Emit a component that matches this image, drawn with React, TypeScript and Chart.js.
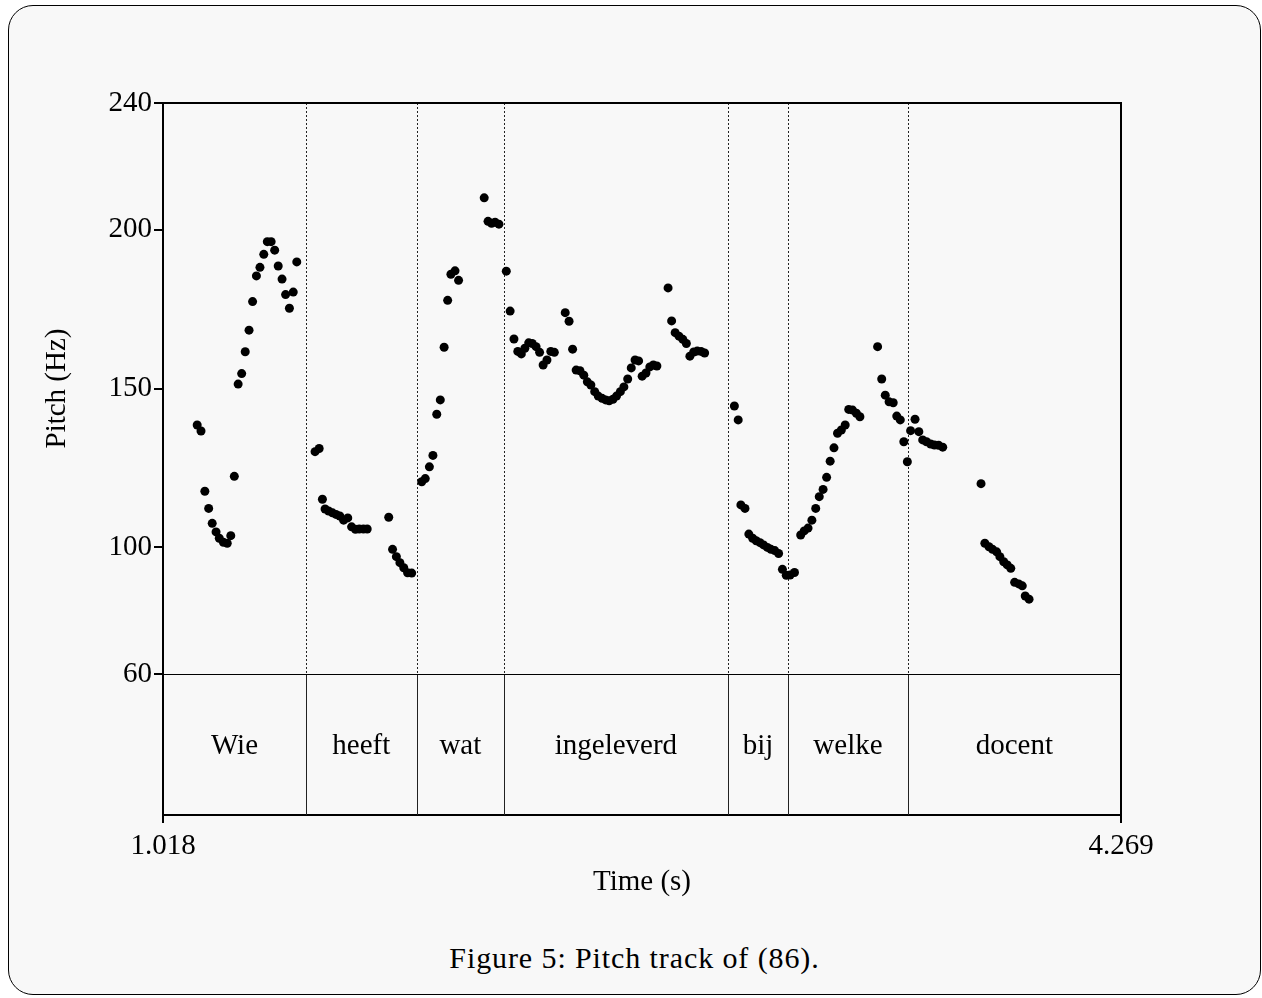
import React, { useEffect, useRef } from 'react';
import { Chart, registerables } from 'chart.js';

Chart.register(...registerables);

// ---- Tier (words) ----
const wordLabels = ['Wie', 'heeft', 'wat', 'ingeleverd', 'bij', 'welke', 'docent'];
const wordBounds = [1.018, 1.503, 1.879, 2.175, 2.935, 3.14, 3.545, 4.269];

// ---- Axis ticks ----
const xTickValues = [1.018, 4.269];
const yTickValues = [60, 100, 150, 200, 240];

// ---- Pitch track, per word ----
const wieTimes = [1.134, 1.147, 1.16, 1.173, 1.185, 1.198, 1.209, 1.223, 1.236, 1.248, 1.26, 1.273, 1.285, 1.297, 1.31, 1.322, 1.335, 1.347, 1.36, 1.372, 1.385, 1.397, 1.409, 1.422, 1.434, 1.447, 1.46, 1.472];
const wieHz = [138.5, 136.6, 117.6, 112.2, 107.5, 104.8, 102.8, 101.5, 101.2, 103.6, 122.3, 151.4, 154.7, 161.6, 168.4, 177.4, 185.5, 188.2, 192.3, 196.3, 196.3, 193.6, 188.6, 184.5, 179.6, 175.3, 180.4, 189.9];

const heeftTimes = [1.534, 1.548, 1.559, 1.568, 1.58, 1.593, 1.605, 1.618, 1.631, 1.645, 1.658, 1.671, 1.684, 1.698, 1.711, 1.784, 1.797, 1.81, 1.822, 1.835, 1.848, 1.862];
const heeftHz = [130.1, 131.1, 115.1, 112.0, 111.4, 110.8, 110.3, 109.8, 108.5, 109.2, 106.4, 105.6, 105.7, 105.7, 105.7, 109.4, 99.3, 97.0, 95.1, 93.5, 91.9, 91.8];

const watTimes = [1.896, 1.908, 1.922, 1.934, 1.947, 1.959, 1.972, 1.984, 1.995, 2.009, 2.021, 2.108, 2.121, 2.133, 2.145, 2.158];
const watHz = [120.6, 121.6, 125.3, 128.9, 141.9, 146.4, 163.0, 177.8, 186.0, 187.1, 184.1, 210.1, 202.7, 202.1, 202.4, 201.8];

const ingeleverdTimes = [2.183, 2.196, 2.209, 2.222, 2.234, 2.246, 2.259, 2.271, 2.284, 2.296, 2.308, 2.321, 2.334, 2.346, 2.383, 2.396, 2.408, 2.42, 2.433, 2.446, 2.458, 2.47, 2.483, 2.495, 2.508, 2.52, 2.532, 2.545, 2.557, 2.57, 2.582, 2.595, 2.607, 2.62, 2.632, 2.644, 2.657, 2.67, 2.682, 2.694, 2.732, 2.744, 2.756, 2.769, 2.782, 2.794, 2.806, 2.819, 2.831, 2.844, 2.856];
const ingeleverdHz = [187.0, 174.4, 165.6, 161.7, 160.9, 162.7, 164.4, 164.2, 163.2, 161.4, 157.4, 159.0, 161.7, 161.4, 173.9, 171.2, 162.4, 155.8, 155.6, 154.2, 152.1, 151.1, 149.0, 147.6, 146.9, 146.4, 146.1, 146.6, 147.6, 149.0, 150.5, 153.0, 156.5, 159.0, 158.7, 153.9, 154.9, 156.8, 157.4, 157.1, 181.7, 171.3, 167.6, 166.5, 165.5, 164.2, 160.2, 161.5, 161.8, 161.7, 161.2];

const bijTimes = [2.957, 2.97, 2.979, 2.993, 3.006, 3.019, 3.031, 3.044, 3.056, 3.069, 3.081, 3.094, 3.107, 3.12, 3.133, 3.146, 3.161];
const bijHz = [144.5, 140.1, 113.3, 112.2, 104.1, 102.8, 102.0, 101.4, 100.7, 99.9, 99.3, 98.9, 98.0, 93.0, 91.1, 91.2, 92.0];

const welkeTimes = [3.182, 3.194, 3.207, 3.22, 3.233, 3.245, 3.258, 3.27, 3.282, 3.295, 3.307, 3.32, 3.333, 3.345, 3.358, 3.371, 3.383, 3.443, 3.457, 3.469, 3.482, 3.496, 3.508, 3.52, 3.532, 3.544];
const welkeHz = [103.8, 105.1, 106.0, 108.5, 112.2, 115.9, 118.2, 122.0, 127.1, 131.3, 135.9, 136.9, 138.5, 143.4, 143.2, 142.2, 141.1, 163.2, 153.0, 147.9, 145.8, 145.5, 141.3, 140.1, 133.2, 126.9];

const docentTimes = [3.555, 3.57, 3.583, 3.596, 3.609, 3.623, 3.636, 3.65, 3.664, 3.794, 3.807, 3.821, 3.833, 3.847, 3.858, 3.871, 3.883, 3.895, 3.908, 3.922, 3.934, 3.944, 3.957];
const docentHz = [136.7, 140.3, 136.4, 133.8, 133.2, 132.5, 132.2, 132.1, 131.5, 120.0, 101.2, 100.1, 99.3, 98.5, 97.0, 95.4, 94.4, 93.3, 88.9, 88.4, 87.8, 84.6, 83.6];

const segments: [number[], number[]][] = [
  [wieTimes, wieHz],
  [heeftTimes, heeftHz],
  [watTimes, watHz],
  [ingeleverdTimes, ingeleverdHz],
  [bijTimes, bijHz],
  [welkeTimes, welkeHz],
  [docentTimes, docentHz],
];

const FONT_FAMILY = '"Liberation Serif", "Times New Roman", serif';
const FONT = { family: FONT_FAMILY, size: 29 };

const tierPlugin = {
  id: 'tierPlugin',
  beforeDatasetsDraw(chart: any) {
    const { ctx, chartArea } = chart;
    const xs = chart.scales.x;
    const ys = chart.scales.y;
    const top = chartArea.top;
    const bottom = chartArea.bottom;
    const mid = ys.getPixelForValue(60);
    ctx.save();
    ctx.strokeStyle = '#222';
    ctx.lineWidth = 1;
    for (let i = 1; i < wordBounds.length - 1; i++) {
      const px = Math.round(xs.getPixelForValue(wordBounds[i])) + 0.5;
      ctx.setLineDash([2, 2]);
      ctx.beginPath();
      ctx.moveTo(px, top);
      ctx.lineTo(px, mid);
      ctx.stroke();
      ctx.setLineDash([]);
      ctx.beginPath();
      ctx.moveTo(px, mid);
      ctx.lineTo(px, bottom);
      ctx.stroke();
    }
    // line at 60 Hz
    ctx.strokeStyle = '#000';
    ctx.beginPath();
    ctx.moveTo(chartArea.left, Math.round(mid) + 0.5);
    ctx.lineTo(chartArea.right, Math.round(mid) + 0.5);
    ctx.stroke();
    // words
    ctx.font = `29px ${FONT_FAMILY}`;
    ctx.fillStyle = '#000';
    ctx.textAlign = 'center';
    ctx.textBaseline = 'middle';
    for (let i = 0; i < wordLabels.length; i++) {
      const cx = (xs.getPixelForValue(wordBounds[i]) + xs.getPixelForValue(wordBounds[i + 1])) / 2;
      ctx.fillText(wordLabels[i], cx, (mid + bottom) / 2 + 2);
    }
    // top and right frame
    ctx.lineWidth = 2;
    ctx.beginPath();
    ctx.moveTo(chartArea.left, top);
    ctx.lineTo(chartArea.right, top);
    ctx.lineTo(chartArea.right, bottom);
    ctx.stroke();
    ctx.restore();
  },
};

export default function App() {
  const canvasRef = useRef<HTMLCanvasElement | null>(null);

  useEffect(() => {
    if (!canvasRef.current) return;
    const points: { x: number; y: number }[] = [];
    segments.forEach(([ts, hz]) => {
      ts.forEach((t, i) => points.push({ x: t, y: hz[i] }));
    });
    const chart = new Chart(canvasRef.current, {
      type: 'scatter',
      data: {
        datasets: [
          {
            data: points,
            pointRadius: 4.5,
            pointHoverRadius: 4.5,
            pointBackgroundColor: '#000',
            pointBorderWidth: 0,
            borderWidth: 0,
            showLine: false,
          },
        ],
      },
      options: {
        responsive: false,
        animation: false,
        devicePixelRatio: 1,
        events: [],
        layout: { padding: { left: 0, top: 103, right: 141, bottom: 0 } },
        plugins: { legend: { display: false }, tooltip: { enabled: false } },
        scales: {
          x: {
            type: 'linear',
            min: 1.018,
            max: 4.269,
            afterBuildTicks: (s: any) => {
              s.ticks = xTickValues.map((v) => ({ value: v }));
            },
            afterFit: (s: any) => {
              s.height = 85;
            },
            ticks: {
              autoSkip: false,
              maxRotation: 0,
              padding: 6,
              color: '#000',
              font: FONT,
              callback: (v: any) => Number(v).toFixed(3),
            },
            grid: { drawOnChartArea: false, drawTicks: true, tickLength: 8, color: '#000', lineWidth: 2 },
            border: { display: true, color: '#000', width: 2 },
            title: { display: true, text: 'Time (s)', color: '#000', font: FONT, padding: { top: 0, bottom: 0 } },
          },
          y: {
            type: 'linear',
            position: 'left',
            stack: 'v',
            stackWeight: 571,
            weight: 1,
            min: 60,
            max: 240,
            afterBuildTicks: (s: any) => {
              s.ticks = yTickValues.map((v) => ({ value: v }));
            },
            afterFit: (s: any) => {
              s.width = 163;
            },
            ticks: { padding: 2, color: '#000', font: FONT, autoSkip: false },
            grid: { drawOnChartArea: false, drawTicks: true, tickLength: 9, color: '#000', lineWidth: 2 },
            border: { display: true, color: '#000', width: 2 },
            title: { display: true, text: 'Pitch (Hz)', color: '#000', font: FONT, padding: { top: 40, bottom: 0 } },
          },
          yt: {
            type: 'linear',
            position: 'left',
            stack: 'v',
            stackWeight: 141,
            weight: 0,
            min: 0,
            max: 1,
            afterFit: (s: any) => {
              s.width = 163;
            },
            ticks: { display: false },
            grid: { display: false, drawTicks: false },
            border: { display: true, color: '#000', width: 2 },
          },
        },
      } as any,
      plugins: [tierPlugin],
    });
    return () => chart.destroy();
  }, []);

  return (
    <div>
      <div
        style={{
          position: 'absolute',
          left: 8,
          top: 5,
          width: 1253,
          height: 990,
          boxSizing: 'border-box',
          border: '1.5px solid #000',
          borderRadius: 25,
          background: '#f8f8f8',
        }}
      />
      <canvas
        ref={canvasRef}
        width={1262}
        height={900}
        style={{ position: 'absolute', left: 0, top: 0, width: 1262, height: 900 }}
      />
      <div
        style={{
          position: 'absolute',
          left: 8,
          top: 941,
          width: 1253,
          textAlign: 'center',
          fontFamily: FONT_FAMILY,
          fontSize: 30,
          lineHeight: '34px',
          letterSpacing: '0.9px',
          color: '#000',
        }}
      >
        Figure 5: Pitch track of (86).
      </div>
    </div>
  );
}
